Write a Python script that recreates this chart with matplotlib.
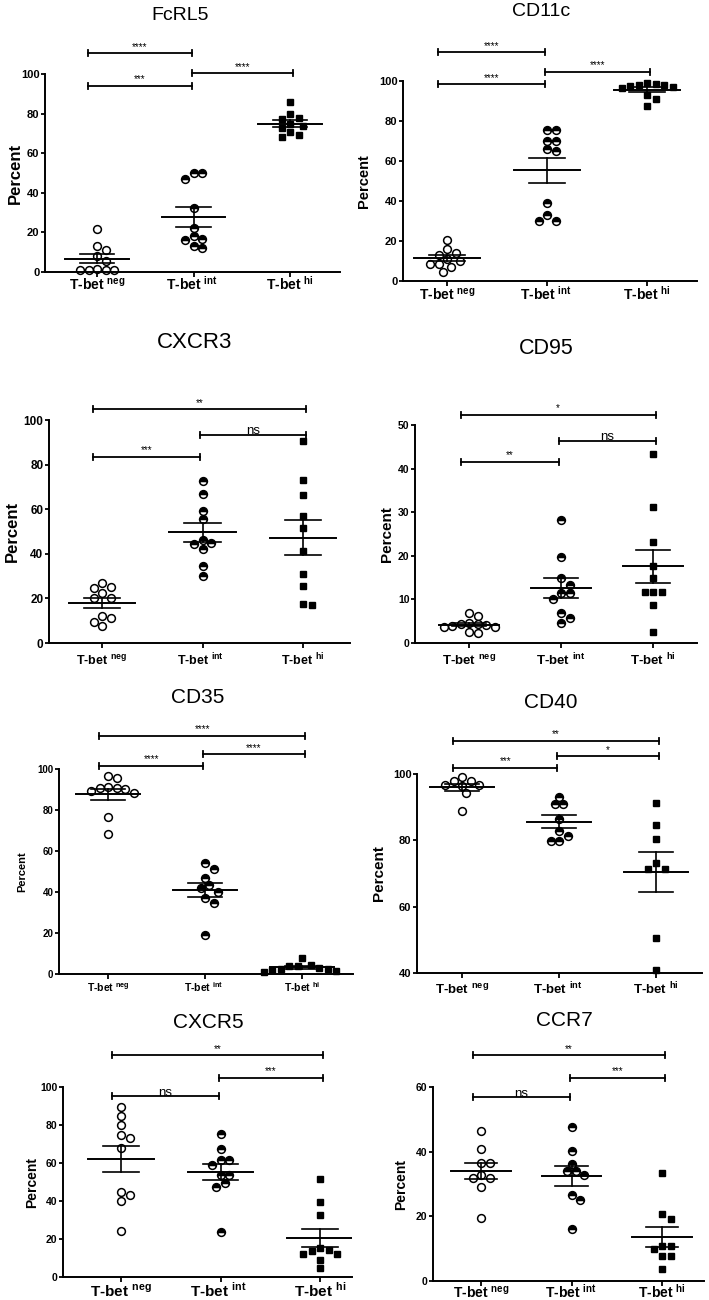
import numpy as np
import matplotlib
matplotlib.use('Agg')
import matplotlib.pyplot as plt

plt.rcParams['font.family'] = ['Liberation Sans', 'DejaVu Sans']
plt.rcParams['mathtext.fontset'] = 'custom'
plt.rcParams['mathtext.rm'] = 'Liberation Sans'
plt.rcParams['mathtext.bf'] = 'Liberation Sans:bold'

# groupes T-bet
group_names = ['neg', 'int', 'hi']

# valeurs (pourcentages)
fcrl5_neg = [21.9, 13.2, 11.3, 7.9, 5.4, 1.7, 1.2, 1.2, 1.2, 1.2]
fcrl5_int = [50.1, 50.1, 47.0, 32.2, 22.3, 18.2, 16.7, 16.0, 13.2, 12.3]
fcrl5_hi = [85.8, 79.6, 77.6, 77.2, 75.0, 73.7, 72.8, 70.8, 69.3, 68.0]

cd11c_neg = [20.5, 15.8, 13.8, 13.0, 10.8, 10.0, 8.7, 8.7, 7.2, 4.3]
cd11c_int = [75.5, 75.5, 70.2, 70.2, 66.0, 65.2, 38.8, 33.0, 30.2, 30.2]
cd11c_hi = [99.2, 98.3, 98.0, 98.0, 97.5, 96.8, 96.3, 93.0, 90.8, 87.5]

cxcr3_neg = [26.9, 25.0, 24.6, 22.5, 20.4, 20.4, 12.3, 11.1, 9.3, 7.8]
cxcr3_int = [72.8, 66.6, 59.3, 55.4, 46.1, 44.9, 44.3, 42.2, 34.6, 30.1]
cxcr3_hi = [90.7, 73.1, 66.3, 56.9, 51.5, 41.2, 31.1, 25.7, 17.5, 17.2]

cd95_neg = [6.9, 6.3, 4.5, 4.4, 4.4, 4.2, 3.8, 3.7, 3.6, 2.5, 2.3]
cd95_int = [28.2, 19.7, 14.8, 13.4, 11.5, 11.5, 10.1, 6.9, 5.7, 4.7]
cd95_hi = [43.4, 31.1, 23.1, 17.6, 15.0, 11.6, 11.6, 11.6, 8.8, 2.5]

cd35_neg = [96.7, 95.6, 91.4, 90.6, 90.6, 90.1, 89.4, 88.1, 76.4, 68.1]
cd35_int = [54.0, 51.4, 47.0, 43.4, 41.8, 40.2, 36.9, 34.5, 19.0]
cd35_hi = [7.6, 4.4, 4.1, 4.1, 3.0, 2.4, 2.4, 2.0, 1.3, 1.1]

cd40_neg = [99.0, 97.8, 97.8, 96.8, 96.8, 96.4, 94.2, 88.8]
cd40_int = [93.2, 91.0, 91.0, 86.3, 82.9, 81.3, 79.7, 79.7]
cd40_hi = [91.2, 84.6, 80.4, 73.3, 71.5, 71.5, 50.6, 41.0]

cxcr5_neg = [89.4, 84.5, 79.8, 74.6, 72.9, 67.8, 44.5, 43.1, 40.0, 24.3]
cxcr5_int = [75.2, 67.3, 61.4, 61.4, 59.0, 53.7, 53.7, 49.6, 47.2, 23.6]
cxcr5_hi = [51.4, 39.6, 32.6, 15.3, 14.4, 13.6, 12.0, 12.0, 9.2, 4.9]

ccr7_neg = [46.5, 40.9, 36.5, 36.5, 32.7, 32.0, 32.0, 29.1, 19.4]
ccr7_int = [47.6, 40.1, 36.3, 34.0, 34.0, 32.9, 26.5, 24.9, 16.2]
ccr7_hi = [33.4, 20.6, 19.3, 10.7, 10.7, 9.9, 7.6, 7.6, 3.6]

# comparaisons : (groupe a, groupe b, significativite)
fcrl5_stats = [(0, 1, '****'), (0, 1, '***'), (1, 2, '****')]
cd11c_stats = [(0, 1, '****'), (1, 2, '****'), (0, 1, '****')]
cxcr3_stats = [(0, 2, '**'), (1, 2, 'ns'), (0, 1, '***')]
cd95_stats = [(0, 2, '*'), (1, 2, 'ns'), (0, 1, '**')]
cd35_stats = [(0, 2, '****'), (1, 2, '****'), (0, 1, '****')]
cd40_stats = [(0, 2, '**'), (1, 2, '*'), (0, 1, '***')]
cxcr5_stats = [(0, 2, '**'), (1, 2, '***'), (0, 1, 'ns')]
ccr7_stats = [(0, 2, '**'), (1, 2, '***'), (0, 1, 'ns')]

panels = [
    ('FcRL5', [fcrl5_neg, fcrl5_int, fcrl5_hi], (0, 100), [0, 20, 40, 60, 80, 100], fcrl5_stats),
    ('CD11c', [cd11c_neg, cd11c_int, cd11c_hi], (0, 100), [0, 20, 40, 60, 80, 100], cd11c_stats),
    ('CXCR3', [cxcr3_neg, cxcr3_int, cxcr3_hi], (0, 100), [0, 20, 40, 60, 80, 100], cxcr3_stats),
    ('CD95', [cd95_neg, cd95_int, cd95_hi], (0, 50), [0, 10, 20, 30, 40, 50], cd95_stats),
    ('CD35', [cd35_neg, cd35_int, cd35_hi], (0, 100), [0, 20, 40, 60, 80, 100], cd35_stats),
    ('CD40', [cd40_neg, cd40_int, cd40_hi], (40, 100), [40, 60, 80, 100], cd40_stats),
    ('CXCR5', [cxcr5_neg, cxcr5_int, cxcr5_hi], (0, 100), [0, 20, 40, 60, 80, 100], cxcr5_stats),
    ('CCR7', [ccr7_neg, ccr7_int, ccr7_hi], (0, 60), [0, 20, 40, 60], ccr7_stats),
]

# mise en page en pixels
W, H = 709, 1300
layouts = [
    dict(box=(45, 340, 272, 74), cats=(97, 192, 290), bh=[110.5, 94.1, 100.3],
         title=(180, 15, 14), ylab=(15, 12), ytfs=8, xtfs=10, xbase=18),
    dict(box=(403, 697, 281, 81), cats=(447, 546, 647), bh=[114.3, 104.7, 98.3],
         title=(541, 11, 14), ylab=(364, 10.5), ytfs=8, xtfs=10, xbase=19),
    dict(box=(49, 350, 643, 420), cats=(102, 200, 303), bh=[104.8, 93.3, 83.5],
         title=(195, 342, 16), ylab=(12, 12), ytfs=8.5, xtfs=9, xbase=22),
    dict(box=(415, 697, 643, 425), cats=(469, 561, 653), bh=[52.3, 46.4, 41.6],
         title=(546, 348, 15.5), ylab=(387, 11), ytfs=7.5, xtfs=9.5, xbase=22),
    dict(box=(59, 353, 974, 769), cats=(108, 204, 302), bh=[116.3, 107.2, 101.5],
         title=(198, 697, 15), ylab=(22, 8), ytfs=7, xtfs=7.5, xbase=18),
    dict(box=(417, 702, 973, 774), cats=(462, 558, 656), bh=[110.1, 105.3, 101.9],
         title=(551, 702, 15), ylab=(379, 11), ytfs=8, xtfs=9.5, xbase=21),
    dict(box=(63, 352, 1277, 1087), cats=(121, 218, 320), bh=[116.7, 104.9, 95.1],
         title=(208, 1022, 15), ylab=(32, 10), ytfs=7.5, xtfs=11, xbase=20),
    dict(box=(433, 704, 1281, 1087), cats=(481, 571, 662), bh=[69.8, 62.8, 56.9],
         title=(564, 1020, 15), ylab=(401, 10), ytfs=7.5, xtfs=10, xbase=17),
]

end_off = [-0.09, -0.02, 0.03]


def swarm(vals, ppx, ppy, d=8.5):
    vals = np.asarray(vals, float)
    order = np.argsort(-vals)
    cands = [0.0]
    for k in range(1, 14):
        cands += [k * d / 2, -k * d / 2]
    pts = []
    offs = np.zeros(len(vals))
    for idx in order:
        y = vals[idx] * ppy
        for c in cands:
            if all((c - px) ** 2 + (y - py) ** 2 >= (0.95 * d) ** 2 for px, py in pts):
                break
        pts.append((c, y))
        offs[idx] = c / ppx
    return offs


fig = plt.figure(figsize=(W / 100, H / 100), dpi=100)

for (title, groups, ylim, yticks, stats), lay in zip(panels, layouts):
    left, right, ybot, ytop = lay['box']
    cats = lay['cats']
    s = (cats[2] - cats[0]) / 2.0
    ax = fig.add_axes([left / W, 1 - ybot / H, (right - left) / W, (ybot - ytop) / H])
    ax.patch.set_alpha(0)
    ax.set_xlim(1 - (cats[0] - left) / s, 3 + (right - cats[2]) / s)
    ax.set_ylim(*ylim)
    ppy = (ybot - ytop) / (ylim[1] - ylim[0])

    for sp in ['top', 'right']:
        ax.spines[sp].set_visible(False)
    ax.spines['left'].set_linewidth(1.4)
    ax.spines['bottom'].set_linewidth(1.4)

    ax.set_yticks(yticks)
    ax.set_yticklabels([str(t) for t in yticks], fontweight='bold', fontsize=lay['ytfs'])
    ax.tick_params(axis='y', direction='out', length=3, width=1.3, pad=1)
    ax.set_xticks([1, 2, 3])
    ax.set_xticklabels([])
    ax.tick_params(axis='x', direction='out', length=3.5, width=1.3)

    for i, vals in enumerate(groups):
        c = i + 1
        v = np.array(vals)
        xs = c + swarm(v, s, ppy)
        if i == 0:
            ax.plot(xs, v, ls='none', marker='o', ms=5.6, mfc='white', mec='black', mew=1.1,
                    clip_on=False, zorder=2)
        elif i == 1:
            ax.plot(xs, v, ls='none', marker='o', ms=5.6, fillstyle='top', mfc='black',
                    markerfacecoloralt='white', mec='black', mew=1.1, clip_on=False, zorder=2)
        else:
            ax.plot(xs, v, ls='none', marker='s', ms=5.0, color='black', clip_on=False, zorder=2)
        m = v.mean()
        se = v.std(ddof=1) / np.sqrt(len(v))
        ax.plot([c - 0.33, c + 0.33], [m, m], color='black', lw=1.4, zorder=3)
        ax.plot([c - 0.18, c + 0.18], [m + se, m + se], color='black', lw=1.2, zorder=3)
        ax.plot([c - 0.18, c + 0.18], [m - se, m - se], color='black', lw=1.2, zorder=3)
        ax.plot([c, c], [m - se, m + se], color='black', lw=1.2, zorder=3)

    # barres de significativite
    cap = 3.0 / ppy
    for (a, b, lab), y in zip(stats, lay['bh']):
        x1 = a + 1 + end_off[a]
        x2 = b + 1 + end_off[b]
        ax.plot([x1, x2], [y, y], color='black', lw=1.3, clip_on=False)
        ax.plot([x1, x1], [y - cap, y + cap], color='black', lw=1.3, clip_on=False)
        ax.plot([x2, x2], [y - cap, y + cap], color='black', lw=1.3, clip_on=False)
        if lab == 'ns':
            ax.text((x1 + x2) / 2, y + 0.5 / ppy, 'ns', fontsize=9.5, ha='center',
                    va='baseline', clip_on=False)
        else:
            ax.text((x1 + x2) / 2, y + 1.5 / ppy, lab, fontsize=7, ha='center',
                    va='bottom', clip_on=False)

    for i, g in enumerate(group_names):
        fig.text(cats[i] / W, 1 - (ybot + lay['xbase']) / H, 'T-bet $^{\\mathbf{' + g + '}}$',
                 ha='center', va='baseline', fontsize=lay['xtfs'], fontweight='bold')

    tx, ty, tfs = lay['title']
    fig.text(tx / W, 1 - ty / H, title, ha='center', va='center', fontsize=tfs)
    lx, lfs = lay['ylab']
    fig.text(lx / W, 1 - ((ybot + ytop) / 2) / H, 'Percent', rotation=90, ha='center',
             va='center', fontsize=lfs, fontweight='bold')

fig.savefig('out.png', dpi=100)
